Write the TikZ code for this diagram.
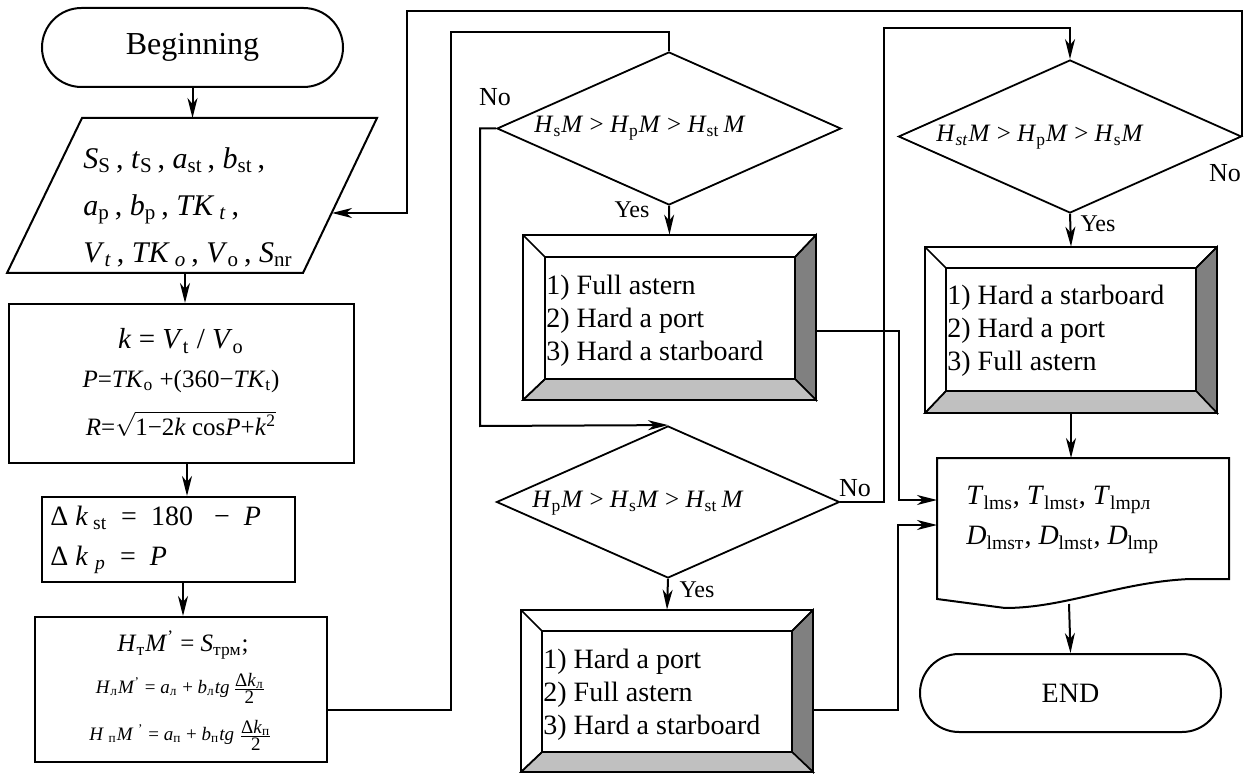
\documentclass[tikz,border=0pt]{standalone}
\usepackage{fontspec}
\setmainfont{Liberation Serif}
\usetikzlibrary{shapes.geometric,shapes.misc,arrows.meta}
\definecolor{bevdark}{HTML}{808080}
\definecolor{bevlight}{HTML}{C0C0C0}
\newcommand\fsz[2]{\fontsize{#1pt}{#2pt}\selectfont}
\newcommand\iv[1]{\textit{#1}}
\newcommand\sbs[1]{\textsubscript{#1}}
\newcommand\bevelbox[8]{%
  \fill[white] (#1,#2) rectangle (#3,#4);
  \filldraw[fill=bevdark,line width=0.8pt] (#3,#2) -- (#3,#4) -- (#7,#8) -- (#7,#6) -- cycle;
  \filldraw[fill=bevlight,line width=0.8pt] (#1,#4) -- (#3,#4) -- (#7,#8) -- (#5,#8) -- cycle;
  \draw[line width=0.8pt] (#1,#2) -- (#5,#6) (#1,#4) -- (#5,#8) (#3,#2) -- (#7,#6);
  \draw[line width=1pt] (#1,#2) rectangle (#3,#4);
  \draw[line width=0.8pt] (#5,#6) rectangle (#7,#8);
}
\begin{document}
\begin{tikzpicture}[x=0.5pt,y=-0.5pt,
  conn/.style={line width=1pt},
  arr/.style={line width=1pt,-{Stealth[length=10pt,width=5pt,inset=3pt]}},
  term/.style={rounded rectangle, draw, line width=1pt, inner sep=0},
  box/.style={rectangle, draw, line width=1pt, inner sep=0},
  cond/.style={diamond, draw, line width=0.9pt, inner sep=0},
  hold/.style={rectangle, inner sep=0},
  txt/.style={inner sep=0},
  condtext/.style={inner sep=0, font=\fsz{12.5}{14}},
  acttext/.style={inner sep=0, anchor=west, align=left, font=\fsz{14}{16.5}},
  lbl/.style={inner sep=0, font=\fsz{13}{15}}]
\useasboundingbox (0,0) rectangle (1251,774);

% Beginning
\node[term, minimum width=150.5pt, minimum height=39.5pt, font=\fsz{16}{19}] (begin) at (192.5,47.5) {Beginning};

% input parallelogram
\draw[line width=1pt] (82,118) -- (377,118) -- (303,273) -- (7,273) -- cycle;
\coordinate (partop) at (195,118);
\coordinate (parbot) at (185,273);
\coordinate (parright) at (332,213);
\node[txt, anchor=west, align=left, font=\fsz{15}{23.5}] (partext) at (83,207)
 {\iv{S}\sbs{S}\,, \iv{t}\sbs{S}\,, \iv{a}\sbs{st}\,, \iv{b}\sbs{st}\,,\\
  \iv{a}\sbs{p}\,, \iv{b}\sbs{p}\,, \iv{TK}\,\sbs{\iv{t}}\,,\\
  \iv{V}\sbs{\iv{t}}\,, \iv{TK}\,\sbs{\iv{o}}\,, \iv{V}\sbs{o}\,, \iv{S}\sbs{nr}};

% k box
\node[box, minimum width=172.5pt, minimum height=79.5pt] (kbox) at (181.5,383.5) {};
\node[txt, font=\fsz{14.5}{16}] (k1) at (181,341) {\iv{k} = \iv{V}\sbs{t} / \iv{V}\sbs{o}};
\node[txt, font=\fsz{12.5}{14}] (k2) at (181,381) {\iv{P}=\iv{TK}\sbs{o} +(360−\iv{TK}\sbs{t})};
\node[txt, font=\fsz{12.5}{14}] (k3) at (181,424) {\iv{R}=$\sqrt{\hbox{1−2\iv{k} cos\iv{P}+\iv{k}\textsuperscript{2}}}$};

% delta box
\node[box, minimum width=126.5pt, minimum height=42.5pt] (dbox) at (168.5,539.5) {};
\node[txt, anchor=west, font=\fsz{14}{16}] (dk1) at (50,518) {Δ \iv{k}\sbs{ st} \ = \ 180 \ \ − \ \iv{P}};
\node[txt, anchor=west, font=\fsz{14}{16}] (dk2) at (50,560) {Δ \iv{k} \sbs{\iv{p}} \ = \ \iv{P}};

% H box
\node[box, minimum width=146pt, minimum height=72.5pt] (hbox) at (181,689.5) {};
\node[txt, font=\fsz{12.5}{14}] (h1) at (183,645) {\iv{H}\sbs{т}\iv{M}\textsuperscript{'} = \iv{S}\sbs{трм};};
\node[txt, font=\fsz{9.5}{11}] (h2) at (181,688) {\iv{H}\sbs{л}\iv{M}\textsuperscript{'} = \iv{a}\sbs{л} + \iv{b}\sbs{л}\iv{tg}\,$\frac{\hbox{Δ\iv{k}\sbs{л}}}{\hbox{2}}$};
\node[txt, font=\fsz{9.5}{11}] (h3) at (181,735) {\iv{H} \sbs{п}\iv{M} \textsuperscript{'} = \iv{a}\sbs{п} + \iv{b}\sbs{п}\iv{tg} $\frac{\hbox{Δ\iv{k}\sbs{п}}}{\hbox{2}}$};

% diamonds
\node[cond, minimum width=172pt, minimum height=76.5pt] (d1) at (669,128.5) {};
\node[condtext] (d1t) at (640,128) {\iv{H}\sbs{s}\iv{M} > \iv{H}\sbs{p}\iv{M} > \iv{H}\sbs{st}\,\iv{M}};
\node[cond, minimum width=171.5pt, minimum height=76pt] (d2) at (668,502) {};
\node[condtext] (d2t) at (638,503) {\iv{H}\sbs{p}\iv{M} > \iv{H}\sbs{s}\iv{M} > \iv{H}\sbs{st}\,\iv{M}};
\node[cond, minimum width=171.5pt, minimum height=76.5pt] (d3) at (1070,136.5) {};
\node[condtext] (d3t) at (1040,137) {\iv{H}\sbs{\iv{st}}\iv{M} > \iv{H}\sbs{p}\iv{M} > \iv{H}\sbs{s}\iv{M}};

% action boxes
\bevelbox{523}{235}{816}{400}{545}{257}{795}{379}
\node[hold, minimum width=146.5pt, minimum height=82.5pt] (b1) at (669.5,317.5) {};
\node[acttext] (b1t) at (546,321) {1) Full astern\\2) Hard a port\\3) Hard a starboard};

\bevelbox{521}{610}{813}{772}{542}{631}{792}{752}
\node[hold, minimum width=146pt, minimum height=81pt] (b2) at (667,691) {};
\node[acttext] (b2t) at (543,695) {1) Hard a port\\2) Full astern\\3) Hard a starboard};

\bevelbox{925}{247}{1217}{413}{946}{268}{1196}{391}
\node[hold, minimum width=146pt, minimum height=83pt] (b3) at (1071,330) {};
\node[acttext] (b3t) at (947,331) {1) Hard a starboard\\2) Hard a port\\3) Full astern};

% output document
\draw[line width=1pt] (937,458) -- (1229,458) -- (1229,579) -- (1190,579) .. controls (1120,582) and (1065,608) .. (1005,608) -- (937,599) -- cycle;
\coordinate (outtop) at (1071,458);
\coordinate (outbot) at (1069,604);
\coordinate (outin1) at (937,500);
\coordinate (outin2) at (937,525);
\node[txt, anchor=west, align=left, font=\fsz{14}{20}] (outtext) at (966,520)
 {\iv{T}\sbs{lms}, \iv{T}\sbs{lmst}, \iv{T}\sbs{lmpл}\\
  \iv{D}\sbs{lmsт}, \iv{D}\sbs{lmst}, \iv{D}\sbs{lmp}};

% END
\node[term, minimum width=150.5pt, minimum height=39pt, font=\fsz{14}{16}] (end) at (1070.5,693) {END};

% labels
\node[lbl] (no1) at (495,97) {No};
\node[lbl, font=\fsz{12}{14}] (yes1) at (632,210) {Yes};
\node[lbl] (no2) at (855,488) {No};
\node[lbl, font=\fsz{12}{14}] (yes2) at (697,590) {Yes};
\node[lbl] (no3) at (1225,173) {No};
\node[lbl, font=\fsz{12}{14}] (yes3) at (1098,224) {Yes};

% bend coordinates
\coordinate (c1) at (451,32);
\coordinate (c2) at (480,426);
\coordinate (c3) at (899,500);
\coordinate (c4) at (884,28);
\coordinate (c5) at (898,525);
\coordinate (c6) at (1242,11);
\coordinate (c7) at (407,213);

% connectors
\draw[arr] (begin.south) -- (begin.south |- partop);
\draw[arr] (parbot) -- (parbot |- kbox.north);
\draw[arr] ([xshift=2.75pt]kbox.south) -- ([xshift=2.75pt]kbox.south |- dbox.north);
\draw[arr] ([xshift=7.25pt]dbox.south) -- ([xshift=7.25pt]dbox.south |- hbox.north);
\draw[conn] ([yshift=-10.25pt]hbox.east) -| (c1) -| (d1.north);
\draw[arr] (d1.west) -| (c2) -- (d2.north);
\draw[arr] (d1.south) -- (b1.north);
\draw[arr] ([yshift=-6.75pt]b1.east) -| (c3) -- (outin1);
\draw[arr] (d2.east) -| (c4) -| (d3.north);
\draw[arr] (d2.south) -- (b2.north);
\draw[arr] ([yshift=-9.5pt]b2.east) -| (c5) -- (outin2);
\draw[arr] (d3.south) -- (b3.north);
\draw[arr] (d3.east) -| (c6) -| (c7) -- (parright);
\draw[arr] (b3.south) -- (b3.south |- outtop);
\draw[arr] (outbot) -- (end.north);
\end{tikzpicture}
\end{document}
